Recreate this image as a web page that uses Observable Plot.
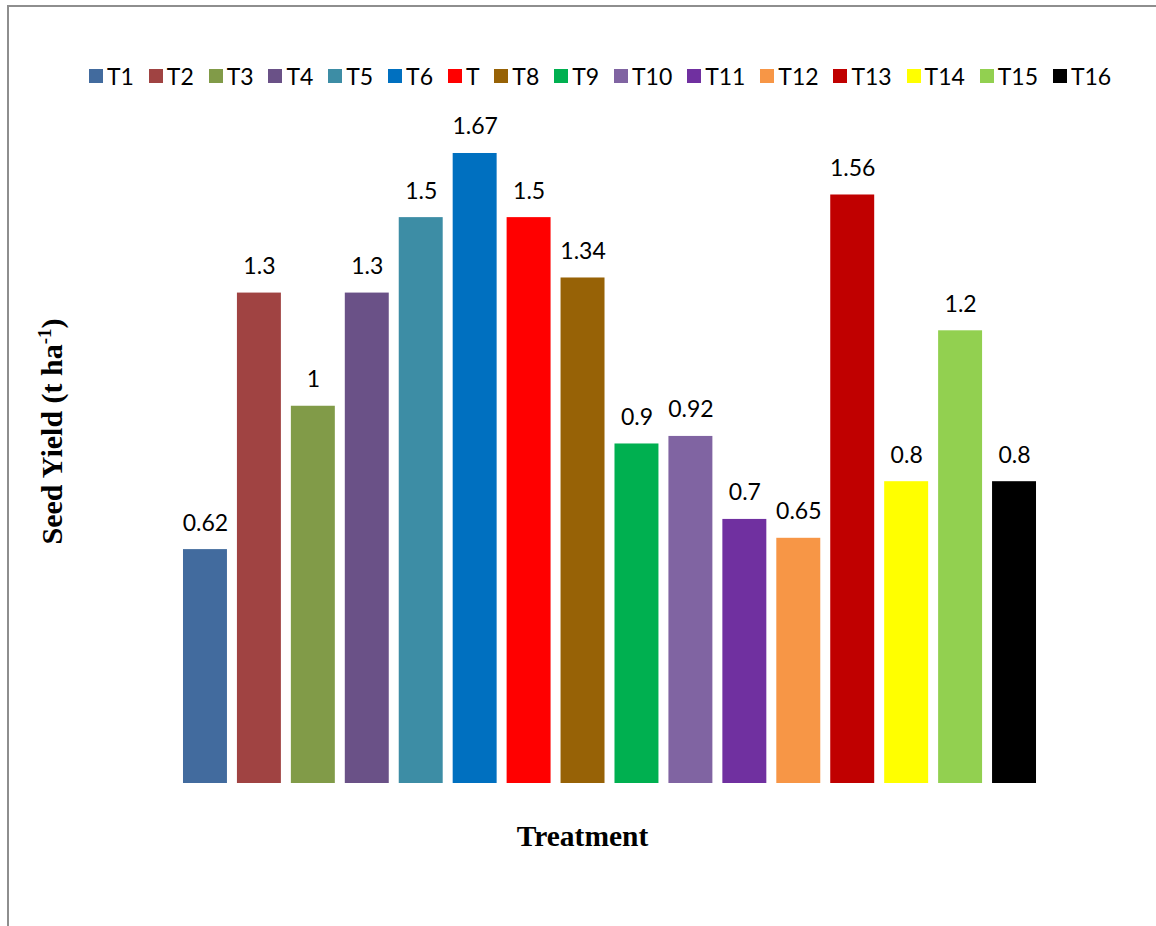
<!DOCTYPE html>
<html>
<head>
<meta charset="utf-8">
<script src="https://cdn.jsdelivr.net/npm/d3@7"></script>
<script src="https://cdn.jsdelivr.net/npm/@observablehq/plot@0.6"></script>
<style>
  html, body { margin: 0; padding: 0; background: #fff; }
  #wrap { position: relative; width: 1156px; height: 926px; overflow: hidden; background: #fff; }
  #frame { position: absolute; left: 7px; top: 5px; width: 1160px; height: 940px;
           border-top: 2px solid #8e8e8e; border-left: 2px solid #8e8e8e; box-sizing: border-box; }
  #chart { position: absolute; left: 0; top: 0; }
  #legend { position: absolute; left: 89px; top: 62px; display: flex; align-items: center;
            font-family: Lato, "Open Sans", sans-serif; font-size: 23px; color: #000; white-space: nowrap; }
  #legend .item { display: flex; align-items: center; margin-right: 14.9px; }
  #legend .sw { width: 14px; height: 14px; margin-right: 4px; }
</style>
</head>
<body>
<div id="wrap">
  <div id="frame"></div>
  <div id="chart"></div>
  <div id="legend"></div>
</div>
<script>
// Data
const treatments = ["T1","T2","T3","T4","T5","T6","T","T8","T9","T10","T11","T12","T13","T14","T15","T16"];
const seedYield = [0.62, 1.3, 1, 1.3, 1.5, 1.67, 1.5, 1.34, 0.9, 0.92, 0.7, 0.65, 1.56, 0.8, 1.2, 0.8];
const colors = ["#426B9E","#A04342","#819B48","#6A5187","#3D8DA5","#0070C0","#FF0000","#976206",
                "#00B050","#8064A2","#7030A0","#F79646","#C00000","#FFFF00","#92D050","#000000"];
const yTitle = "Seed Yield (t ha";
const yTitleSup = "-1";
const xTitle = "Treatment";

const data = treatments.map((t, i) => ({treatment: t, value: seedYield[i]}));

const plot = Plot.plot({
  width: 1156,
  height: 926,
  marginLeft: 178,
  marginRight: 115,
  marginTop: 28.5,
  marginBottom: 143,
  x: {domain: treatments, paddingInner: 0.185, paddingOuter: 0.0925, round: false, axis: null},
  y: {domain: [0, 2], axis: null},
  color: {domain: treatments, range: colors},
  style: {background: "transparent"},
  marks: [
    Plot.barY(data, {x: "treatment", y: "value", fill: "treatment"}),
    Plot.text(data, {x: "treatment", y: "value", text: d => String(d.value),
      lineAnchor: "bottom", dy: -19, fill: "#000",
      fontFamily: "Lato, 'Open Sans', sans-serif", fontSize: 23})
  ]
});
document.getElementById("chart").appendChild(plot);

const svg = d3.select(plot);
// x-axis title
svg.append("text")
  .attr("x", 582.5).attr("y", 846)
  .attr("text-anchor", "middle")
  .attr("font-family", "'Liberation Serif', 'Times New Roman', serif")
  .attr("font-weight", "bold").attr("font-size", 29.5).attr("fill", "#000")
  .text(xTitle);
// y-axis title with superscript
const yt = svg.append("text")
  .attr("transform", "translate(62,431.5) rotate(-90)")
  .attr("text-anchor", "middle")
  .attr("font-family", "'Liberation Serif', 'Times New Roman', serif")
  .attr("font-weight", "bold").attr("font-size", 30).attr("fill", "#000");
yt.append("tspan").text(yTitle);
yt.append("tspan").attr("font-size", 19).attr("dy", -11).text(yTitleSup);
yt.append("tspan").attr("dy", 11).text(")");

// Legend
const legend = d3.select("#legend");
treatments.forEach((t, i) => {
  const it = legend.append("div").attr("class", "item");
  it.append("div").attr("class", "sw").style("background", colors[i]);
  it.append("span").text(t);
});
</script>
</body>
</html>
